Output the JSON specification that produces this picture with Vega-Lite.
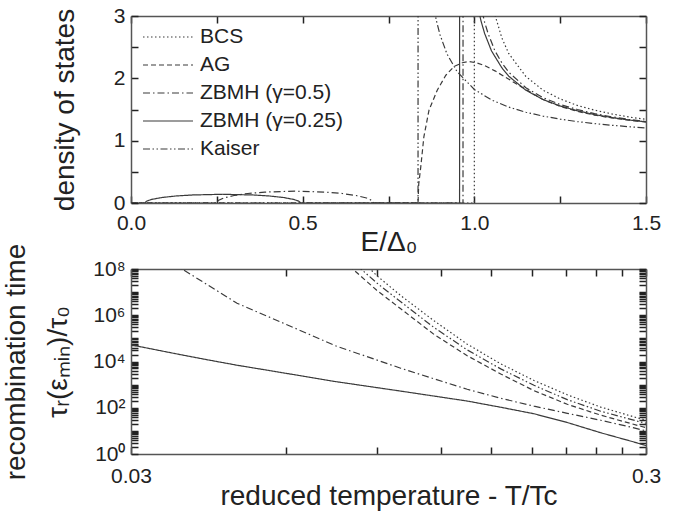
{
  "$schema": "https://vega.github.io/schema/vega-lite/v6.json",
  "background": "white",
  "padding": {"left": 2, "top": 5, "right": 0, "bottom": 5},
  "config": {
    "font": "Liberation Sans",
    "view": {"stroke": null},
    "axis": {
      "grid": false,
      "ticks": true,
      "domainColor": "#555",
      "domainWidth": 1.5,
      "tickColor": "#222",
      "tickWidth": 1.5,
      "tickSize": -7,
      "labelFont": "Liberation Sans",
      "titleFont": "Liberation Sans",
      "labelFontSize": 21,
      "titleFontSize": 28,
      "titleFontWeight": "normal",
      "labelColor": "#222",
      "titleColor": "#222",
      "labelFlush": false,
      "labelOverlap": false,
      "labelPadding": 16,
      "zindex": 1
    }
  },
  "datasets": {
    "dos": [
      {"E": 0, "N": 0, "s": "BCS"}, {"E": 1.0, "N": 0, "s": "BCS"}, {"E": 1.0005, "N": 31.6, "s": "BCS"}, {"E": 1.01, "N": 7.1, "s": "BCS"}, {"E": 1.02, "N": 5.07, "s": "BCS"}, {"E": 1.04, "N": 3.64, "s": "BCS"}, {"E": 1.06, "N": 3.02, "s": "BCS"}, {"E": 1.08, "N": 2.65, "s": "BCS"}, {"E": 1.1, "N": 2.4, "s": "BCS"}, {"E": 1.15, "N": 2.03, "s": "BCS"}, {"E": 1.2, "N": 1.81, "s": "BCS"}, {"E": 1.25, "N": 1.67, "s": "BCS"}, {"E": 1.3, "N": 1.565, "s": "BCS"}, {"E": 1.35, "N": 1.49, "s": "BCS"}, {"E": 1.4, "N": 1.43, "s": "BCS"}, {"E": 1.45, "N": 1.38, "s": "BCS"}, {"E": 1.5, "N": 1.342, "s": "BCS"},
      {"E": 0, "N": 0, "s": "AG"}, {"E": 0.836, "N": 0, "s": "AG"}, {"E": 0.838, "N": 0.3, "s": "AG"}, {"E": 0.844, "N": 0.58, "s": "AG"}, {"E": 0.853, "N": 1.06, "s": "AG"}, {"E": 0.868, "N": 1.49, "s": "AG"}, {"E": 0.892, "N": 1.81, "s": "AG"}, {"E": 0.917, "N": 2.05, "s": "AG"}, {"E": 0.941, "N": 2.19, "s": "AG"}, {"E": 0.965, "N": 2.25, "s": "AG"}, {"E": 0.985, "N": 2.27, "s": "AG"}, {"E": 1.005, "N": 2.25, "s": "AG"}, {"E": 1.028, "N": 2.21, "s": "AG"}, {"E": 1.06, "N": 2.12, "s": "AG"}, {"E": 1.087, "N": 2.03, "s": "AG"}, {"E": 1.135, "N": 1.87, "s": "AG"}, {"E": 1.2, "N": 1.66, "s": "AG"}, {"E": 1.25, "N": 1.55, "s": "AG"}, {"E": 1.3, "N": 1.47, "s": "AG"}, {"E": 1.35, "N": 1.41, "s": "AG"}, {"E": 1.4, "N": 1.365, "s": "AG"}, {"E": 1.45, "N": 1.33, "s": "AG"}, {"E": 1.5, "N": 1.3, "s": "AG"},
      {"E": 0, "N": 0, "s": "ZBMH (γ=0.5)"}, {"E": 0.249, "N": 0, "s": "ZBMH (γ=0.5)"}, {"E": 0.254, "N": 0.04, "s": "ZBMH (γ=0.5)"}, {"E": 0.27, "N": 0.08, "s": "ZBMH (γ=0.5)"}, {"E": 0.3, "N": 0.12, "s": "ZBMH (γ=0.5)"}, {"E": 0.34, "N": 0.152, "s": "ZBMH (γ=0.5)"}, {"E": 0.39, "N": 0.175, "s": "ZBMH (γ=0.5)"}, {"E": 0.478, "N": 0.19, "s": "ZBMH (γ=0.5)"}, {"E": 0.566, "N": 0.175, "s": "ZBMH (γ=0.5)"}, {"E": 0.616, "N": 0.152, "s": "ZBMH (γ=0.5)"}, {"E": 0.656, "N": 0.12, "s": "ZBMH (γ=0.5)"}, {"E": 0.686, "N": 0.08, "s": "ZBMH (γ=0.5)"}, {"E": 0.702, "N": 0.04, "s": "ZBMH (γ=0.5)"}, {"E": 0.707, "N": 0, "s": "ZBMH (γ=0.5)"}, {"E": 0.967, "N": 0, "s": "ZBMH (γ=0.5)"}, {"E": 0.968, "N": 30, "s": "ZBMH (γ=0.5)"}, {"E": 0.98, "N": 6.16, "s": "ZBMH (γ=0.5)"}, {"E": 1.0, "N": 3.93, "s": "ZBMH (γ=0.5)"}, {"E": 1.025, "N": 3.02, "s": "ZBMH (γ=0.5)"}, {"E": 1.03, "N": 2.9, "s": "ZBMH (γ=0.5)"}, {"E": 1.04, "N": 2.72, "s": "ZBMH (γ=0.5)"}, {"E": 1.06, "N": 2.44, "s": "ZBMH (γ=0.5)"}, {"E": 1.08, "N": 2.25, "s": "ZBMH (γ=0.5)"}, {"E": 1.1, "N": 2.1, "s": "ZBMH (γ=0.5)"}, {"E": 1.15, "N": 1.85, "s": "ZBMH (γ=0.5)"}, {"E": 1.2, "N": 1.69, "s": "ZBMH (γ=0.5)"}, {"E": 1.25, "N": 1.58, "s": "ZBMH (γ=0.5)"}, {"E": 1.3, "N": 1.5, "s": "ZBMH (γ=0.5)"}, {"E": 1.35, "N": 1.433, "s": "ZBMH (γ=0.5)"}, {"E": 1.4, "N": 1.383, "s": "ZBMH (γ=0.5)"}, {"E": 1.45, "N": 1.342, "s": "ZBMH (γ=0.5)"}, {"E": 1.5, "N": 1.308, "s": "ZBMH (γ=0.5)"},
      {"E": 0, "N": 0, "s": "ZBMH (γ=0.25)"}, {"E": 0.04, "N": 0, "s": "ZBMH (γ=0.25)"}, {"E": 0.045, "N": 0.029, "s": "ZBMH (γ=0.25)"}, {"E": 0.06, "N": 0.057, "s": "ZBMH (γ=0.25)"}, {"E": 0.09, "N": 0.088, "s": "ZBMH (γ=0.25)"}, {"E": 0.13, "N": 0.112, "s": "ZBMH (γ=0.25)"}, {"E": 0.18, "N": 0.129, "s": "ZBMH (γ=0.25)"}, {"E": 0.267, "N": 0.14, "s": "ZBMH (γ=0.25)"}, {"E": 0.354, "N": 0.129, "s": "ZBMH (γ=0.25)"}, {"E": 0.404, "N": 0.112, "s": "ZBMH (γ=0.25)"}, {"E": 0.444, "N": 0.088, "s": "ZBMH (γ=0.25)"}, {"E": 0.474, "N": 0.057, "s": "ZBMH (γ=0.25)"}, {"E": 0.489, "N": 0.029, "s": "ZBMH (γ=0.25)"}, {"E": 0.494, "N": 0, "s": "ZBMH (γ=0.25)"}, {"E": 0.957, "N": 0, "s": "ZBMH (γ=0.25)"}, {"E": 0.958, "N": 30, "s": "ZBMH (γ=0.25)"}, {"E": 0.97, "N": 6.38, "s": "ZBMH (γ=0.25)"}, {"E": 1.0, "N": 3.49, "s": "ZBMH (γ=0.25)"}, {"E": 1.015, "N": 3.03, "s": "ZBMH (γ=0.25)"}, {"E": 1.02, "N": 2.91, "s": "ZBMH (γ=0.25)"}, {"E": 1.03, "N": 2.72, "s": "ZBMH (γ=0.25)"}, {"E": 1.05, "N": 2.44, "s": "ZBMH (γ=0.25)"}, {"E": 1.08, "N": 2.17, "s": "ZBMH (γ=0.25)"}, {"E": 1.1, "N": 2.035, "s": "ZBMH (γ=0.25)"}, {"E": 1.15, "N": 1.81, "s": "ZBMH (γ=0.25)"}, {"E": 1.2, "N": 1.66, "s": "ZBMH (γ=0.25)"}, {"E": 1.25, "N": 1.557, "s": "ZBMH (γ=0.25)"}, {"E": 1.3, "N": 1.48, "s": "ZBMH (γ=0.25)"}, {"E": 1.35, "N": 1.419, "s": "ZBMH (γ=0.25)"}, {"E": 1.4, "N": 1.371, "s": "ZBMH (γ=0.25)"}, {"E": 1.45, "N": 1.332, "s": "ZBMH (γ=0.25)"}, {"E": 1.5, "N": 1.3, "s": "ZBMH (γ=0.25)"},
      {"E": 0, "N": 0, "s": "Kaiser"}, {"E": 0.836, "N": 0, "s": "Kaiser"}, {"E": 0.837, "N": 30, "s": "Kaiser"}, {"E": 0.85, "N": 5.53, "s": "Kaiser"}, {"E": 0.87, "N": 3.61, "s": "Kaiser"}, {"E": 0.885, "N": 3.05, "s": "Kaiser"}, {"E": 0.89, "N": 2.915, "s": "Kaiser"}, {"E": 0.9, "N": 2.7, "s": "Kaiser"}, {"E": 0.92, "N": 2.395, "s": "Kaiser"}, {"E": 0.95, "N": 2.105, "s": "Kaiser"}, {"E": 1.0, "N": 1.822, "s": "Kaiser"}, {"E": 1.05, "N": 1.653, "s": "Kaiser"}, {"E": 1.1, "N": 1.539, "s": "Kaiser"}, {"E": 1.15, "N": 1.456, "s": "Kaiser"}, {"E": 1.2, "N": 1.394, "s": "Kaiser"}, {"E": 1.25, "N": 1.345, "s": "Kaiser"}, {"E": 1.3, "N": 1.306, "s": "Kaiser"}, {"E": 1.35, "N": 1.274, "s": "Kaiser"}, {"E": 1.4, "N": 1.247, "s": "Kaiser"}, {"E": 1.45, "N": 1.224, "s": "Kaiser"}, {"E": 1.5, "N": 1.204, "s": "Kaiser"}
    ],
    "rec": [
      {"T": 0.086, "tau": 158000000, "s": "BCS"}, {"T": 0.0874, "tau": 100000000, "s": "BCS"}, {"T": 0.09, "tau": 52000000, "s": "BCS"}, {"T": 0.1002, "tau": 7080000, "s": "BCS"}, {"T": 0.1163, "tau": 575000, "s": "BCS"}, {"T": 0.1349, "tau": 56200, "s": "BCS"}, {"T": 0.1567, "tau": 7940, "s": "BCS"}, {"T": 0.1818, "tau": 1510, "s": "BCS"}, {"T": 0.211, "tau": 363, "s": "BCS"}, {"T": 0.245, "tau": 107, "s": "BCS"}, {"T": 0.293, "tau": 33.1, "s": "BCS"}, {"T": 0.3, "tau": 29.5, "s": "BCS"},
      {"T": 0.08, "tau": 150000000, "s": "AG"}, {"T": 0.0813, "tau": 89000000, "s": "AG"}, {"T": 0.09, "tau": 12000000, "s": "AG"}, {"T": 0.1002, "tau": 1900000, "s": "AG"}, {"T": 0.1163, "tau": 148000, "s": "AG"}, {"T": 0.1349, "tau": 17800, "s": "AG"}, {"T": 0.1567, "tau": 2880, "s": "AG"}, {"T": 0.1818, "tau": 550, "s": "AG"}, {"T": 0.211, "tau": 141, "s": "AG"}, {"T": 0.245, "tau": 47.9, "s": "AG"}, {"T": 0.293, "tau": 15.8, "s": "AG"}, {"T": 0.3, "tau": 13.8, "s": "AG"},
      {"T": 0.036, "tau": 190000000, "s": "ZBMH (γ=0.5)"}, {"T": 0.0377, "tau": 100000000, "s": "ZBMH (γ=0.5)"}, {"T": 0.0482, "tau": 3310000, "s": "ZBMH (γ=0.5)"}, {"T": 0.0604, "tau": 380000, "s": "ZBMH (γ=0.5)"}, {"T": 0.0754, "tau": 44700, "s": "ZBMH (γ=0.5)"}, {"T": 0.0862, "tau": 16200, "s": "ZBMH (γ=0.5)"}, {"T": 0.1002, "tau": 5130, "s": "ZBMH (γ=0.5)"}, {"T": 0.1163, "tau": 1780, "s": "ZBMH (γ=0.5)"}, {"T": 0.1349, "tau": 631, "s": "ZBMH (γ=0.5)"}, {"T": 0.1567, "tau": 257, "s": "ZBMH (γ=0.5)"}, {"T": 0.1818, "tau": 117, "s": "ZBMH (γ=0.5)"}, {"T": 0.211, "tau": 57.5, "s": "ZBMH (γ=0.5)"}, {"T": 0.245, "tau": 28.8, "s": "ZBMH (γ=0.5)"}, {"T": 0.2843, "tau": 13.5, "s": "ZBMH (γ=0.5)"}, {"T": 0.3, "tau": 10, "s": "ZBMH (γ=0.5)"},
      {"T": 0.03, "tau": 52500, "s": "ZBMH (γ=0.25)"}, {"T": 0.0358, "tau": 24000, "s": "ZBMH (γ=0.25)"}, {"T": 0.0416, "tau": 12600, "s": "ZBMH (γ=0.25)"}, {"T": 0.0482, "tau": 6900, "s": "ZBMH (γ=0.25)"}, {"T": 0.056, "tau": 3980, "s": "ZBMH (γ=0.25)"}, {"T": 0.065, "tau": 2290, "s": "ZBMH (γ=0.25)"}, {"T": 0.0744, "tau": 1380, "s": "ZBMH (γ=0.25)"}, {"T": 0.1002, "tau": 525, "s": "ZBMH (γ=0.25)"}, {"T": 0.1349, "tau": 195, "s": "ZBMH (γ=0.25)"}, {"T": 0.1567, "tau": 105, "s": "ZBMH (γ=0.25)"}, {"T": 0.1818, "tau": 55, "s": "ZBMH (γ=0.25)"}, {"T": 0.211, "tau": 23, "s": "ZBMH (γ=0.25)"}, {"T": 0.245, "tau": 8.3, "s": "ZBMH (γ=0.25)"}, {"T": 0.2843, "tau": 3.3, "s": "ZBMH (γ=0.25)"}, {"T": 0.3, "tau": 2.3, "s": "ZBMH (γ=0.25)"},
      {"T": 0.0825, "tau": 158000000, "s": "Kaiser"}, {"T": 0.0839, "tau": 100000000, "s": "Kaiser"}, {"T": 0.09, "tau": 25000000, "s": "Kaiser"}, {"T": 0.1002, "tau": 3800000, "s": "Kaiser"}, {"T": 0.1163, "tau": 295000, "s": "Kaiser"}, {"T": 0.1349, "tau": 31600, "s": "Kaiser"}, {"T": 0.1567, "tau": 4790, "s": "Kaiser"}, {"T": 0.1818, "tau": 933, "s": "Kaiser"}, {"T": 0.211, "tau": 224, "s": "Kaiser"}, {"T": 0.245, "tau": 70.8, "s": "Kaiser"}, {"T": 0.293, "tau": 24, "s": "Kaiser"}, {"T": 0.3, "tau": 21.4, "s": "Kaiser"}
    ]
  },
  "spacing": 66,
  "bounds": "flush",
  "vconcat": [
    {
      "width": 515,
      "height": 187,
      "data": {"name": "dos"},
      "resolve": {"axis": {"x": "independent", "y": "independent"}},
      "layer": [
        {
          "mark": {"type": "line", "clip": true, "strokeWidth": 1.2, "color": "#3a3a3a"},
          "encoding": {
            "x": {"field": "E", "type": "quantitative", "scale": {"domain": [0, 1.5], "nice": false, "zero": false},
              "axis": {"orient": "bottom", "values": [0, 0.25, 0.5, 0.75, 1, 1.25, 1.5], "labelExpr": "(datum.value*4)%2==0 ? format(datum.value,'.1f') : ''", "title": "E/Δ₀", "titlePadding": -5}},
            "y": {"field": "N", "type": "quantitative", "scale": {"domain": [0, 3], "nice": false},
              "axis": {"orient": "left", "values": [0, 0.5, 1, 1.5, 2, 2.5, 3], "labelExpr": "datum.value%1==0 ? format(datum.value,'d') : ''", "title": "density of states", "labelPadding": 13, "titlePadding": 34}},
            "strokeDash": {"field": "s", "type": "nominal",
              "scale": {"domain": ["BCS", "AG", "ZBMH (γ=0.5)", "ZBMH (γ=0.25)", "Kaiser"], "range": [[1.5, 2.5], [5, 3], [7, 3, 1.5, 3], [1, 0], [7, 2.5, 1.5, 2.5, 1.5, 2.5]]},
              "legend": {"orient": "none", "legendX": 26, "legendY": 10, "title": null, "symbolType": "M-2.5,0H2.5", "symbolSize": 400, "symbolStrokeWidth": 1.2, "symbolStrokeColor": "#3a3a3a", "symbolFillColor": "transparent", "labelFontSize": 21, "labelFont": "Liberation Sans", "labelColor": "#222", "rowPadding": 7, "labelOffset": 21, "padding": 0}}
          }
        },
        {
          "mark": {"type": "point", "opacity": 0, "clip": true},
          "encoding": {
            "x": {"field": "E", "type": "quantitative", "axis": {"orient": "top", "values": [0, 0.25, 0.5, 0.75, 1, 1.25, 1.5], "labels": false, "title": null}},
            "y": {"field": "N", "type": "quantitative", "axis": {"orient": "right", "values": [0, 0.5, 1, 1.5, 2, 2.5, 3], "labels": false, "title": null}}
          }
        }
      ]
    },
    {
      "width": 515,
      "height": 185,
      "data": {"name": "rec"},
      "resolve": {"axis": {"x": "independent", "y": "independent"}},
      "layer": [
        {
          "mark": {"type": "line", "clip": true, "strokeWidth": 1.2, "color": "#3a3a3a"},
          "encoding": {
            "x": {"field": "T", "type": "quantitative", "scale": {"type": "log", "domain": [0.03, 0.3], "nice": false},
              "axis": {"orient": "bottom", "values": [0.03, 0.06, 0.09, 0.12, 0.15, 0.18, 0.21, 0.24, 0.27, 0.3], "labelExpr": "(datum.value < 0.031 || datum.value > 0.29) ? format(datum.value,'.2~f') : ''", "title": "reduced temperature - T/Tc", "labelPadding": 18, "titlePadding": -4}},
            "y": {"field": "tau", "type": "quantitative", "scale": {"type": "log", "domain": [1, 100000000], "nice": false},
              "axis": {"orient": "left", "values": [1,2,3,4,5,6,7,8,9,10,20,30,40,50,60,70,80,90,100,200,300,400,500,600,700,800,900,1000,2000,3000,4000,5000,6000,7000,8000,9000,10000,20000,30000,40000,50000,60000,70000,80000,90000,100000,200000,300000,400000,500000,600000,700000,800000,900000,1000000,2000000,3000000,4000000,5000000,6000000,7000000,8000000,9000000,10000000,20000000,30000000,40000000,50000000,60000000,70000000,80000000,90000000,100000000],
                "labelExpr": "datum.value==1?'10⁰':datum.value==100?'10²':datum.value==10000?'10⁴':datum.value==1000000?'10⁶':datum.value==100000000?'10⁸':''",
                "title": ["recombination time", "τᵣ(εₘᵢₙ)/τ₀"], "titleLineHeight": 42, "labelPadding": 13, "titlePadding": 20}},
            "strokeDash": {"field": "s", "type": "nominal",
              "scale": {"domain": ["BCS", "AG", "ZBMH (γ=0.5)", "ZBMH (γ=0.25)", "Kaiser"], "range": [[1.5, 2.5], [5, 3], [7, 3, 1.5, 3], [1, 0], [7, 2.5, 1.5, 2.5, 1.5, 2.5]]},
              "legend": null}
          }
        },
        {
          "mark": {"type": "point", "opacity": 0, "clip": true},
          "encoding": {
            "x": {"field": "T", "type": "quantitative", "axis": {"orient": "top", "values": [0.03, 0.06, 0.09, 0.12, 0.15, 0.18, 0.21, 0.24, 0.27, 0.3], "labels": false, "title": null}},
            "y": {"field": "tau", "type": "quantitative", "axis": {"orient": "right", "values": [1,2,3,4,5,6,7,8,9,10,20,30,40,50,60,70,80,90,100,200,300,400,500,600,700,800,900,1000,2000,3000,4000,5000,6000,7000,8000,9000,10000,20000,30000,40000,50000,60000,70000,80000,90000,100000,200000,300000,400000,500000,600000,700000,800000,900000,1000000,2000000,3000000,4000000,5000000,6000000,7000000,8000000,9000000,10000000,20000000,30000000,40000000,50000000,60000000,70000000,80000000,90000000,100000000], "labels": false, "title": null}}
          }
        }
      ]
    }
  ]
}
